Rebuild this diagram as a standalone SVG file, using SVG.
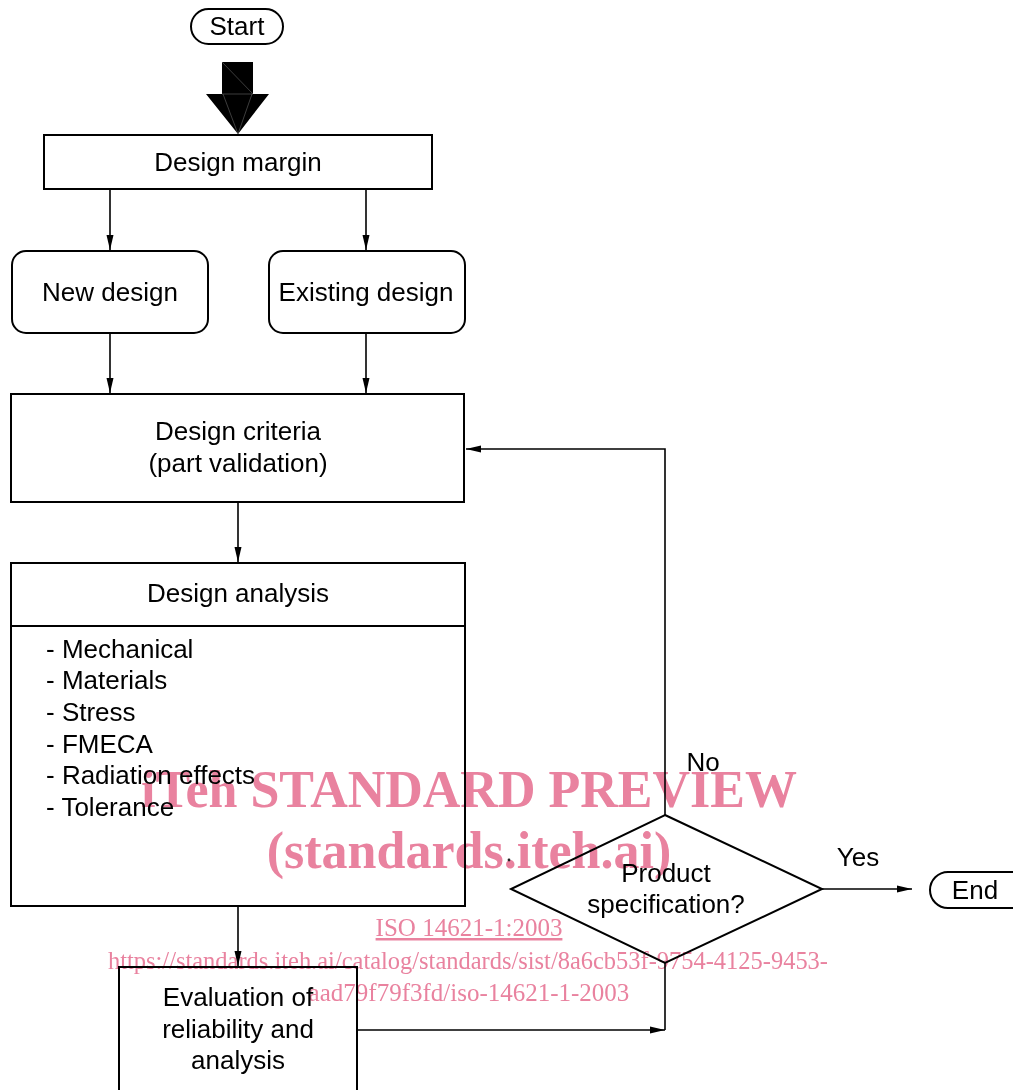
<svg xmlns="http://www.w3.org/2000/svg" width="1013" height="1090" viewBox="0 0 1013 1090">
  <style>
    .box { fill: #fff; stroke: #000; stroke-width: 2; }
    .lbl { font-family: "Liberation Sans", Arial, sans-serif; font-size: 26px; fill: #000; text-anchor: middle; }
    .lst { font-family: "Liberation Sans", Arial, sans-serif; font-size: 26px; fill: #000; }
    .wire { fill: none; stroke: #000; stroke-width: 1.6; }
    .wm { font-family: "Liberation Serif", "Times New Roman", serif; fill: #e9829f; text-anchor: middle; }
  </style>
  <defs>
    <marker id="arr" markerUnits="userSpaceOnUse" markerWidth="16" markerHeight="8" refX="15" refY="4" orient="auto">
      <path d="M0,0.5 L15,4 L0,7.5 z" fill="#000"/>
    </marker>
  </defs>
  <rect width="1013" height="1090" fill="#fff"/>

  <!-- connectors -->
  <g id="connectors">
    <line class="wire" x1="110" y1="190" x2="110" y2="250" marker-end="url(#arr)"/>
    <line class="wire" x1="366" y1="190" x2="366" y2="250" marker-end="url(#arr)"/>
    <line class="wire" x1="110" y1="334" x2="110" y2="393" marker-end="url(#arr)"/>
    <line class="wire" x1="366" y1="334" x2="366" y2="393" marker-end="url(#arr)"/>
    <line class="wire" x1="238" y1="503" x2="238" y2="562" marker-end="url(#arr)"/>
    <line class="wire" x1="238" y1="906" x2="238" y2="966" marker-end="url(#arr)"/>
    <path class="wire" d="M665,815 V449 H466" marker-end="url(#arr)"/>
    <line class="wire" x1="822" y1="889" x2="912" y2="889" marker-end="url(#arr)"/>
    <line class="wire" x1="358" y1="1030" x2="665" y2="1030" marker-end="url(#arr)"/>
    <line class="wire" x1="665" y1="963" x2="665" y2="1030"/>
    <text class="lbl" x="703" y="771">No</text>
    <text class="lbl" x="858" y="866">Yes</text>
  </g>

  <!-- start terminal and block arrow -->
  <g id="start">
    <rect class="box" x="191" y="9" width="92" height="35" rx="17.5"/>
    <text class="lbl" x="237" y="35">Start</text>
  </g>
  <g id="start-arrow">
    <polygon points="222,62 253,62 253,94 269,94 238,134 206,94 222,94" fill="#000"/>
    <g stroke="#666" stroke-width="0.6">
      <line x1="222" y1="62" x2="253" y2="94"/>
      <line x1="222" y1="94" x2="253" y2="94"/>
      <line x1="223" y1="94" x2="238" y2="134"/>
      <line x1="252" y1="94" x2="238" y2="134"/>
    </g>
  </g>

  <g id="design-margin">
    <rect class="box" x="44" y="135" width="388" height="54"/>
    <text class="lbl" x="238" y="171">Design margin</text>
  </g>

  <g id="new-design">
    <rect class="box" x="12" y="251" width="196" height="82" rx="14"/>
    <text class="lbl" x="110" y="301">New design</text>
  </g>

  <g id="existing-design">
    <rect class="box" x="269" y="251" width="196" height="82" rx="14"/>
    <text class="lbl" x="366" y="301">Existing design</text>
  </g>

  <g id="design-criteria">
    <rect class="box" x="11" y="394" width="453" height="108"/>
    <text class="lbl" x="238" y="440">Design criteria</text>
    <text class="lbl" x="238" y="472">(part validation)</text>
  </g>

  <g id="design-analysis">
    <rect class="box" x="11" y="563" width="454" height="343"/>
    <line x1="11" y1="626" x2="465" y2="626" stroke="#000" stroke-width="2"/>
    <text class="lbl" x="238" y="602">Design analysis</text>
    <text class="lst" x="46" y="658">- Mechanical</text>
    <text class="lst" x="46" y="689">- Materials</text>
    <text class="lst" x="46" y="721">- Stress</text>
    <text class="lst" x="46" y="753">- FMECA</text>
    <text class="lst" x="46" y="784">- Radiation effects</text>
    <text class="lst" x="46" y="816">- Tolerance</text>
  </g>

  <g id="evaluation">
    <rect class="box" x="119" y="967" width="238" height="130"/>
    <text class="lbl" x="238" y="1006">Evaluation of</text>
    <text class="lbl" x="238" y="1038">reliability and</text>
    <text class="lbl" x="238" y="1069">analysis</text>
  </g>

  <g id="product-specification">
    <polygon class="box" points="665,815 822,889 665,963 511,889"/>
    <text class="lbl" x="666" y="882">Product</text>
    <text class="lbl" x="666" y="913">specification?</text>
  </g>

  <g id="end">
    <rect class="box" x="930" y="872" width="100" height="36" rx="18"/>
    <text class="lbl" x="975" y="899">End</text>
  </g>

  <!-- publisher overlay -->
  <g id="overlay" style="mix-blend-mode: multiply">
    <text class="wm" x="469" y="807" font-size="52" font-weight="bold">iTeh STANDARD PREVIEW</text>
    <text class="wm" x="469" y="868" font-size="52" font-weight="bold">(standards.iteh.ai)</text>
    <text class="wm" x="469" y="936" font-size="25" text-decoration="underline">ISO 14621-1:2003</text>
    <text class="wm" x="468" y="969" font-size="25" textLength="720" lengthAdjust="spacingAndGlyphs">https://standards.iteh.ai/catalog/standards/sist/8a6cb53f-9754-4125-9453-</text>
    <text class="wm" x="469" y="1001" font-size="25">aad79f79f3fd/iso-14621-1-2003</text>
  </g>
  <circle cx="509" cy="860" r="1.4" fill="#222"/>
</svg>
